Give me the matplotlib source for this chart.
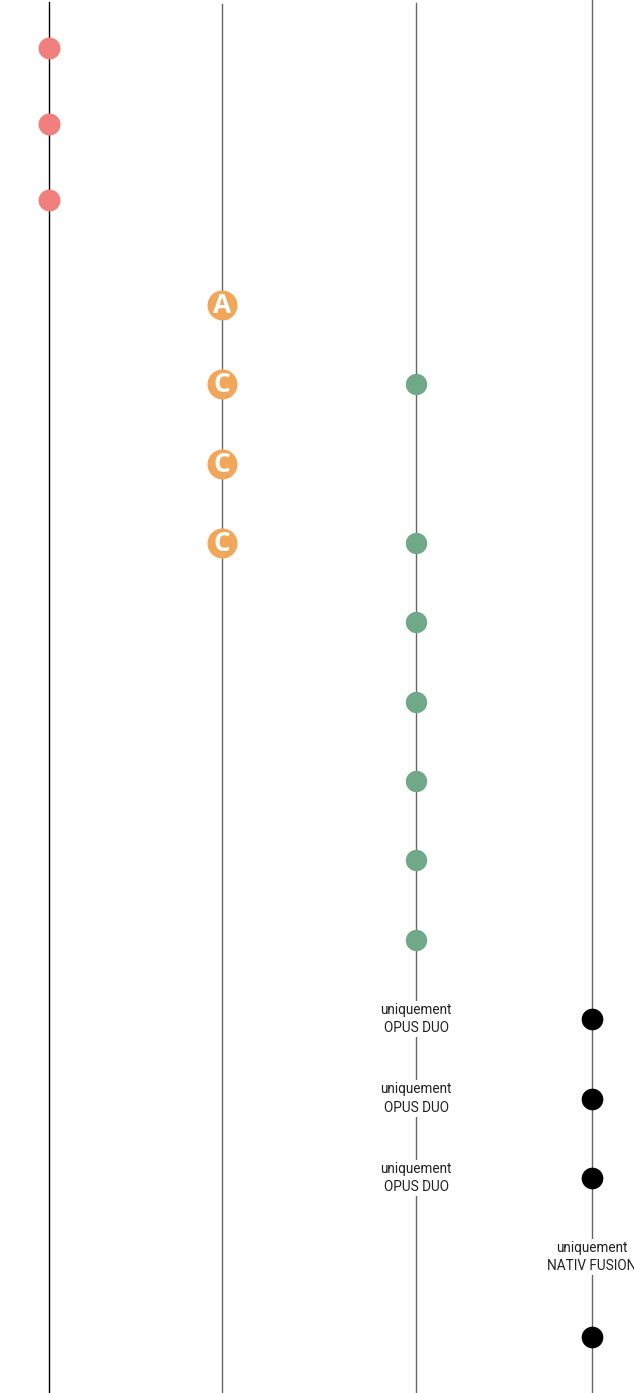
import matplotlib.pyplot as plt

# rows in which each column has a mark (row index, top to bottom)
pink_rows = [0, 1, 2]
orange_rows = [3, 4, 5, 6]
orange_letters = ["A", "C", "C", "C"]
green_rows = [4, 6, 7, 8, 9, 10, 11]
opus_rows = [12, 13, 14]
opus_label = "uniquement\nOPUS DUO"
black_rows = [12, 13, 14, 16]
nativ_rows = [15]
nativ_label = "uniquement\nNATIV FUSION"

# layout (pixels)
W, H = 634, 1393
col_x = [49, 222, 416, 592]
line_top = [2, 4, 3, 0]
line_color = ["black", "#666666", "#666666", "#666666"]


def row_y(r):
    if r < 3:
        return 48 + 76 * r
    return 305 + 79.35 * (r - 3)


fig = plt.figure(figsize=(W / 100, H / 100), dpi=100)
ax = fig.add_axes([0, 0, 1, 1])
ax.set_xlim(0, W)
ax.set_ylim(H, 0)
ax.axis("off")

for x, top, c in zip(col_x, line_top, line_color):
    ax.plot([x, x], [top, H], color=c, lw=1.0, zorder=1)

ax.plot([col_x[0]] * len(pink_rows), [row_y(r) for r in pink_rows],
        "o", ms=15.8, color="#F07F7E", mec="none", zorder=3)

ax.plot([col_x[1]] * len(orange_rows), [row_y(r) for r in orange_rows],
        "o", ms=21.6, color="#F2A65A", mec="none", zorder=3)
for r, letter in zip(orange_rows, orange_letters):
    ax.text(col_x[1], row_y(r) + 0.5, letter, color="white", fontsize=19,
            fontweight="bold", family="Open Sans",
            ha="center", va="center", zorder=4)

ax.plot([col_x[2]] * len(green_rows), [row_y(r) for r in green_rows],
        "o", ms=15.4, color="#6FA987", mec="none", zorder=3)

ax.plot([col_x[3]] * len(black_rows), [row_y(r) for r in black_rows],
        "o", ms=15.6, color="black", mec="none", zorder=3)

for r in opus_rows:
    ax.text(col_x[2], row_y(r), opus_label, fontsize=9.8, family="Roboto",
            color="#222222", ha="center", va="center", linespacing=1.4,
            bbox=dict(facecolor="white", edgecolor="none", pad=1.5), zorder=4)
for r in nativ_rows:
    ax.text(col_x[3], row_y(r), nativ_label, fontsize=9.8, family="Roboto",
            color="#222222", ha="center", va="center", linespacing=1.4,
            bbox=dict(facecolor="white", edgecolor="none", pad=1.5), zorder=4)

fig.savefig("out.png", dpi=100)
